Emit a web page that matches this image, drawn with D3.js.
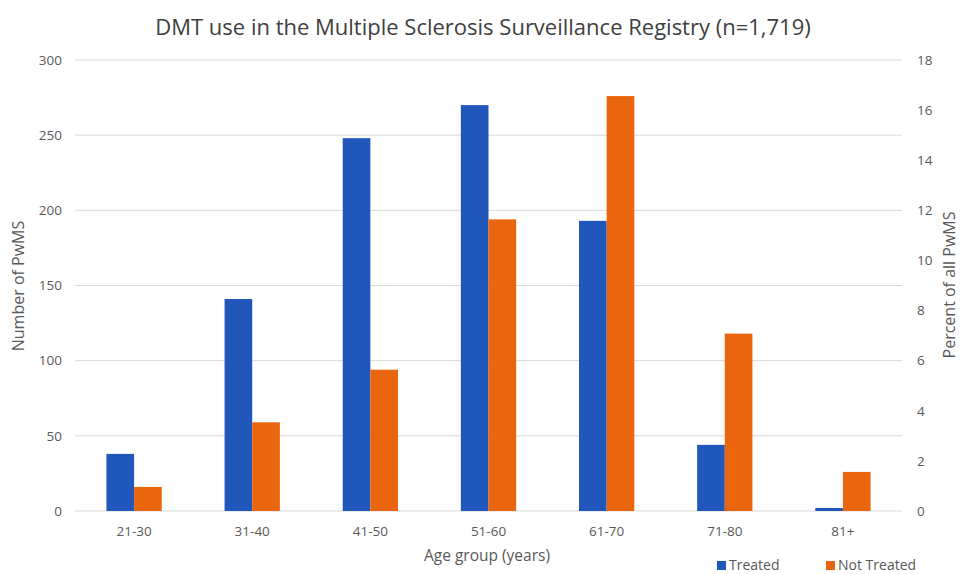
<!DOCTYPE html>
<html>
<head>
<meta charset="utf-8">
<script src="https://cdn.jsdelivr.net/npm/d3@7"></script>
<style>
  body { margin: 0; background: #fff; }
  text { font-family: "Open Sans", "Noto Sans", sans-serif; }
</style>
</head>
<body>
<div id="container"></div>
<script>
// chart data
const ageGroups = ["21-30", "31-40", "41-50", "51-60", "61-70", "71-80", "81+"];
const treated = [38, 141, 248, 270, 193, 44, 2];
const notTreated = [16, 59, 94, 194, 276, 118, 26];
const seriesNames = ["Treated", "Not Treated"];
const leftTicks = [0, 50, 100, 150, 200, 250, 300];
const rightTicks = [0, 2, 4, 6, 8, 10, 12, 14, 16, 18];

const widthSVG = 961,
    heightSVG = 574,
    margin = {top: 60, bottom: 63, left: 75, right: 59};

const colors = {"Treated": "#2157BA", "Not Treated": "#E9660E"};

const svg = d3.select("#container")
    .append("svg")
    .attr("width", widthSVG)
    .attr("height", heightSVG);

// scales
const x0 = d3.scaleBand()
    .domain(ageGroups)
    .range([margin.left, widthSVG - margin.right])
    .padding(0);

const step = x0.bandwidth();
const x1 = d3.scaleBand()
    .domain(seriesNames)
    .range([step * 0.266, step * 0.734])
    .padding(0);

const yLeft = d3.scaleLinear()
    .domain([0, 300])
    .range([heightSVG - margin.bottom, margin.top]);

const yRight = d3.scaleLinear()
    .domain([0, 18])
    .range([heightSVG - margin.bottom, margin.top]);

// gridlines
svg.append("g")
    .selectAll("line")
    .data(leftTicks)
    .enter()
    .append("line")
    .attr("x1", margin.left)
    .attr("x2", widthSVG - margin.right)
    .attr("y1", d => yLeft(d))
    .attr("y2", d => yLeft(d))
    .attr("stroke", "#d9d9d9")
    .attr("stroke-width", 1);

// bars
const rows = ageGroups.map((g, i) => ({group: g, values: [
    {key: "Treated", value: treated[i]},
    {key: "Not Treated", value: notTreated[i]}
]}));

svg.append("g")
    .selectAll("g")
    .data(rows)
    .enter()
    .append("g")
    .attr("transform", d => `translate(${x0(d.group)},0)`)
    .selectAll("rect")
    .data(d => d.values)
    .enter()
    .append("rect")
    .attr("x", d => x1(d.key))
    .attr("width", x1.bandwidth())
    .attr("y", d => yLeft(d.value))
    .attr("height", d => yLeft(0) - yLeft(d.value))
    .attr("fill", d => colors[d.key]);

// left axis
const leftAxis = svg.append("g")
    .attr("transform", `translate(${margin.left - 13},0)`)
    .call(d3.axisLeft(yLeft).tickValues(leftTicks).tickSize(0).tickPadding(0));
leftAxis.select(".domain").remove();
leftAxis.selectAll("text")
    .style("font-size", "13.5px")
    .attr("fill", "#595959");

// right axis
const rightAxis = svg.append("g")
    .attr("transform", `translate(${widthSVG - margin.right + 15},0)`)
    .call(d3.axisRight(yRight).tickValues(rightTicks).tickSize(0).tickPadding(0));
rightAxis.select(".domain").remove();
rightAxis.selectAll("text")
    .style("font-size", "13.5px")
    .attr("fill", "#595959");

// x axis labels
svg.append("g")
    .selectAll("text")
    .data(ageGroups)
    .enter()
    .append("text")
    .attr("x", d => x0(d) + step / 2)
    .attr("y", yLeft(0) + 25)
    .attr("text-anchor", "middle")
    .style("font-size", "13.5px")
    .attr("fill", "#595959")
    .text(d => d);

// title
svg.append("text")
    .attr("x", 483)
    .attr("y", 35)
    .attr("text-anchor", "middle")
    .style("font-size", "22px")
    .attr("fill", "#404040")
    .text("DMT use in the Multiple Sclerosis Surveillance Registry (n=1,719)");

// axis titles
svg.append("text")
    .attr("x", 487)
    .attr("y", 561)
    .attr("text-anchor", "middle")
    .style("font-size", "15.5px")
    .attr("fill", "#595959")
    .text("Age group (years)");

svg.append("text")
    .attr("transform", "translate(24,286) rotate(-90)")
    .attr("text-anchor", "middle")
    .style("font-size", "16px")
    .attr("fill", "#595959")
    .text("Number of PwMS");

svg.append("text")
    .attr("transform", "translate(955,285) rotate(-90)")
    .attr("text-anchor", "middle")
    .style("font-size", "16px")
    .attr("fill", "#595959")
    .text("Percent of all PwMS");

// legend
const legendX = [717, 826];
const legend = svg.append("g");
legend.selectAll("rect")
    .data(seriesNames)
    .enter()
    .append("rect")
    .attr("x", (d, i) => legendX[i])
    .attr("y", 561)
    .attr("width", 9)
    .attr("height", 9)
    .attr("fill", d => colors[d]);
legend.selectAll("text")
    .data(seriesNames)
    .enter()
    .append("text")
    .attr("x", (d, i) => legendX[i] + 12)
    .attr("y", 570)
    .style("font-size", "14px")
    .attr("fill", "#595959")
    .text(d => d);
</script>
</body>
</html>
